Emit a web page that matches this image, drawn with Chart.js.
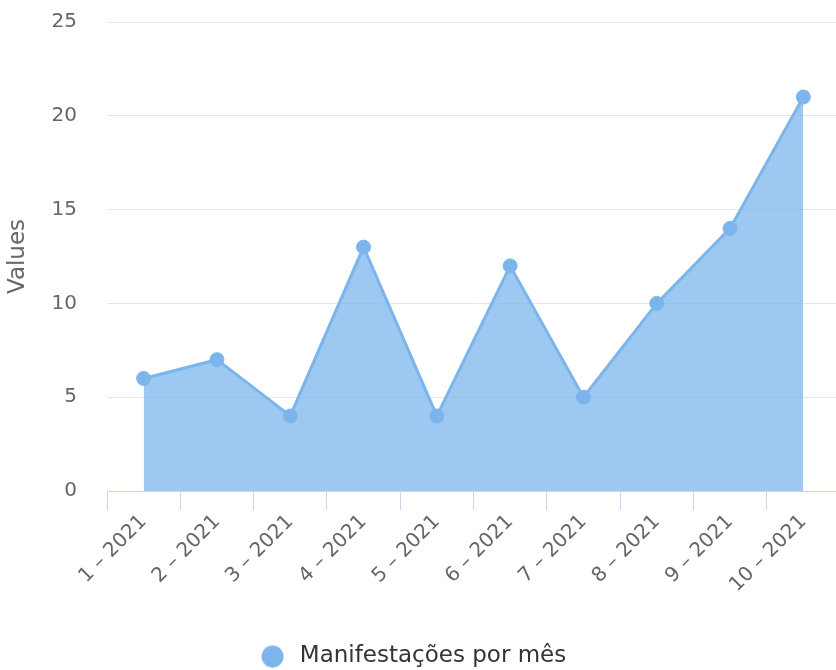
<!DOCTYPE html>
<html>
<head>
<meta charset="utf-8">
<script src="https://cdn.jsdelivr.net/npm/chart.js@4"></script>
<style>
  html, body { margin: 0; padding: 0; background: #fff; overflow: hidden; }
  #wrap { width: 848px; height: 678px; }
</style>
</head>
<body>
<div id="wrap"><canvas id="lineChart"></canvas></div>
<script>
var months = ['1 – 2021', '2 – 2021', '3 – 2021', '4 – 2021', '5 – 2021', '6 – 2021', '7 – 2021', '8 – 2021', '9 – 2021', '10 – 2021'];
var manifestacoes = [6, 7, 4, 13, 4, 12, 5, 10, 14, 21];
var yTicks = [0, 5, 10, 15, 20, 25];

var font = 'DejaVu Sans';
var seriesColor = '#7cb5ec';

// legend symbol: circle drawn left of the image centre
var legendDot = document.createElement('canvas');
legendDot.width = 50;
legendDot.height = 24;
var dctx = legendDot.getContext('2d');
dctx.fillStyle = seriesColor;
dctx.beginPath();
dctx.arc(12.5, 12, 11, 0, Math.PI * 2);
dctx.fill();

var ctx = document.getElementById('lineChart').getContext('2d');
var myChart = new Chart(ctx, {
    type: 'line',
    data: {
        labels: months,
        datasets: [{
            label: 'Manifestações por mês',
            data: manifestacoes,
            borderColor: seriesColor,
            backgroundColor: 'rgba(124, 181, 236, 0.75)',
            fill: 'origin',
            borderWidth: 3,
            tension: 0,
            pointRadius: 7,
            pointBorderWidth: 1,
            pointBackgroundColor: seriesColor,
            pointBorderColor: seriesColor,
            pointStyle: 'circle'
        }]
    },
    options: {
        responsive: true,
        maintainAspectRatio: false,
        animation: false,
        layout: { padding: { top: 22, right: 0, left: 0, bottom: 0 } },
        plugins: {
            tooltip: { enabled: false },
            legend: {
                position: 'bottom',
                labels: {
                    usePointStyle: true,
                    pointStyleWidth: 6.5,
                    boxHeight: 16,
                    color: '#333',
                    font: { family: font, size: 23 },
                    padding: 3,
                    generateLabels: function (chart) {
                        var items = Chart.defaults.plugins.legend.labels.generateLabels(chart);
                        items.forEach(function (it) { it.pointStyle = legendDot; });
                        return items;
                    }
                }
            }
        },
        scales: {
            x: {
                offset: true,
                grid: {
                    offset: true,
                    drawOnChartArea: false,
                    drawTicks: true,
                    tickLength: 19,
                    color: '#ccd6eb'
                },
                border: { display: true, color: '#ccd6eb', width: 1 },
                ticks: {
                    minRotation: 45,
                    maxRotation: 45,
                    color: '#666',
                    font: { family: font, size: 20 },
                    padding: 0
                },
                afterFit: function (scale) { scale.height = 151; }
            },
            y: {
                min: 0,
                max: 25,
                afterBuildTicks: function (scale) {
                    scale.ticks = yTicks.map(function (v) { return { value: v }; });
                },
                grid: {
                    color: '#e6e6e6',
                    drawTicks: true,
                    tickLength: 30,
                    tickColor: 'rgba(0,0,0,0)'
                },
                border: { display: false },
                ticks: {
                    color: '#666',
                    font: { family: font, size: 20 },
                    padding: 0
                },
                title: {
                    display: true,
                    text: 'Values',
                    color: '#666',
                    font: { family: font, size: 23 },
                    padding: { top: 4, bottom: 0 }
                },
                afterFit: function (scale) { scale.width = 107; }
            }
        }
    }
});
</script>
</body>
</html>
